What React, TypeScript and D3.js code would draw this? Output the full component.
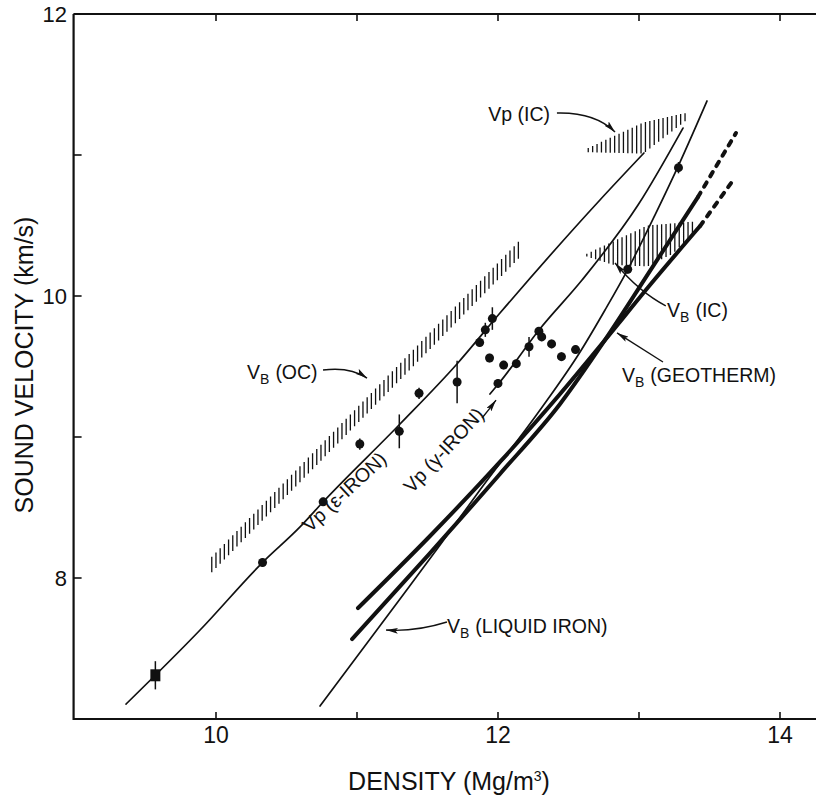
import React, { useEffect } from "react";
import * as d3 from "d3";

const W = 816;
const H = 795;

// ---- axis ticks ----
const xTicks = [10, 11, 12, 13, 14];
const xTickLabels = ["10", "", "12", "", "14"];
const yTicks = [8, 9, 10, 11, 12];
const yTickLabels = ["8", "", "10", "", "12"];

// ---- ε-iron measurements ----
const epsDensity = [9.57, 10.33, 10.76, 11.02, 11.3, 11.44, 11.71, 11.87, 11.91, 11.96];
const epsVelocity = [7.31, 8.11, 8.54, 8.95, 9.04, 9.31, 9.39, 9.67, 9.76, 9.84];
const epsError = [0.1, 0.03, 0.03, 0.04, 0.12, 0.04, 0.15, 0.03, 0.05, 0.08];

// ---- γ-iron / high-T measurements ----
const gamDensity = [11.94, 12.0, 12.04, 12.13, 12.22, 12.29, 12.31, 12.38, 12.45, 12.55, 12.92, 13.28];
const gamVelocity = [9.56, 9.38, 9.51, 9.52, 9.64, 9.75, 9.71, 9.66, 9.57, 9.62, 10.19, 10.91];
const gamError = [0.03, 0.03, 0.03, 0.03, 0.07, 0.03, 0.03, 0.03, 0.03, 0.03, 0.03, 0.04];

// ---- curves ----
const epsLineD = [9.362, 9.887, 10.333, 10.596, 10.759, 11.305, 11.709, 12.014, 12.723, 13.035];
const epsLineV = [7.106, 7.631, 8.113, 8.362, 8.539, 9.092, 9.518, 9.879, 10.681, 11.014];

const gamLineD = [11.943, 12.014, 12.291, 12.596, 12.993, 13.312];
const gamLineV = [9.305, 9.39, 9.759, 10.113, 10.645, 11.191];

const liqLineD = [10.738, 11.305, 11.589, 11.872, 12.298, 12.582, 12.759, 12.922, 13.113, 13.291, 13.482];
const liqLineV = [7.092, 7.851, 8.234, 8.624, 9.191, 9.603, 9.901, 10.191, 10.574, 10.95, 11.383];

const thickAD = [11.007, 11.518, 12.014, 12.44, 12.759, 13.078, 13.433];
const thickAV = [7.787, 8.298, 8.823, 9.305, 9.688, 10.078, 10.496];
const thickAExtD = [13.433, 13.674];
const thickAExtV = [10.496, 10.83];

const thickBD = [10.965, 11.518, 12.014, 12.44, 12.759, 13.092, 13.418];
const thickBV = [7.567, 8.177, 8.738, 9.234, 9.688, 10.199, 10.702];
const thickBExtD = [13.418, 13.688];
const thickBExtV = [10.702, 11.156];

// ---- hatched bands (upper / lower edges) ----
const ocUpperD = [9.97, 12.16];
const ocUpperV = [8.15, 10.4];
const ocLowerD = [9.97, 12.16];
const ocLowerV = [8.04, 10.28];

const vpicUpperD = [12.64, 13.03, 13.34];
const vpicUpperV = [11.05, 11.23, 11.3];
const vpicLowerD = [12.64, 13.03, 13.34];
const vpicLowerV = [11.02, 11.01, 11.25];

const vbicUpperD = [12.63, 13.06, 13.41];
const vbicUpperV = [10.3, 10.5, 10.53];
const vbicLowerD = [12.63, 12.82, 13.06, 13.24, 13.41];
const vbicLowerV = [10.28, 10.22, 10.21, 10.3, 10.47];

const FONT = "'Liberation Sans', Arial, Helvetica, sans-serif";

const x = d3.scaleLinear().domain([10, 14]).range([216, 780]);
const y = d3.scaleLinear().domain([8, 12]).range([578, 14]);

const zip = (a: number[], b: number[]) => a.map((d, i) => [d, b[i]] as [number, number]);

const lineGen = d3
  .line<[number, number]>()
  .x((d) => x(d[0]))
  .y((d) => y(d[1]))
  .curve(d3.curveMonotoneX);

function hatch(uD: number[], uV: number[], lD: number[], lV: number[], step: number) {
  const up = d3.scaleLinear().domain(uD).range(uV);
  const lo = d3.scaleLinear().domain(lD).range(lV);
  const x0 = x(Math.max(uD[0], lD[0]));
  const x1 = x(Math.min(uD[uD.length - 1], lD[lD.length - 1]));
  const segs: string[] = [];
  for (let px = x0; px <= x1 + 0.01; px += step) {
    const d = x.invert(px);
    segs.push(`M${px.toFixed(2)},${y(up(d)).toFixed(2)}V${y(lo(d)).toFixed(2)}`);
  }
  return segs.join("");
}

function VB({ d, v, rest }: { d: number; v: number; rest: string }) {
  return (
    <text x={x(d)} y={y(v)} fontFamily={FONT} fontSize={19.5} fill="#111">
      <tspan>V</tspan>
      <tspan fontSize={14} dy={5}>B</tspan>
      <tspan dy={-5} dx={6}>{rest}</tspan>
    </text>
  );
}

function Arrow({ a, c, b }: { a: number[]; c: number[]; b: number[] }) {
  return (
    <path
      d={`M${x(a[0])},${y(a[1])}Q${x(c[0])},${y(c[1])} ${x(b[0])},${y(b[1])}`}
      fill="none"
      stroke="#111"
      strokeWidth={1.4}
      markerEnd="url(#ah)"
    />
  );
}

export default function App() {
  useEffect(() => {
    document.body.style.margin = "0";
    document.body.style.overflow = "hidden";
  }, []);

  const xL = 8.99;
  const xLeft = x(xL);
  const yBot = y(7);
  const yTop = y(12);

  return (
    <svg width={W} height={H} style={{ display: "block", background: "#fff" }}>
      <defs>
        <marker id="ah" viewBox="0 0 12 6" refX={12} refY={3} markerWidth={12} markerHeight={6} markerUnits="userSpaceOnUse" orient="auto">
          <path d="M0,0 L12,3 L0,6 L2.5,3 z" fill="#111" />
        </marker>
      </defs>

      {/* frame */}
      <g stroke="#111" fill="none">
        <path d={`M${xLeft},${yTop}V${yBot}H${W}`} strokeWidth={2.2} />
        <path d={`M${xLeft},${yTop}H${W}`} strokeWidth={2} />
        {xTicks.map((t) => (
          <g key={"xt" + t}>
            <line x1={x(t)} x2={x(t)} y1={yBot} y2={yBot - 7} strokeWidth={1.6} />
            <line x1={x(t)} x2={x(t)} y1={yTop} y2={yTop + 7} strokeWidth={1.6} />
          </g>
        ))}
        {yTicks.map((t) => (
          <line key={"yt" + t} x1={xLeft} x2={xLeft + 8} y1={y(t)} y2={y(t)} strokeWidth={1.6} />
        ))}
      </g>
      {xTicks.map((t, i) => (
        <text key={"xl" + t} x={x(t)} y={yBot + 24} textAnchor="middle" fontFamily={FONT} fontSize={23} fill="#111">
          {xTickLabels[i]}
        </text>
      ))}
      {yTicks.map((t, i) => (
        <text key={"yl" + t} x={67} y={y(t) + 8} textAnchor="end" fontFamily={FONT} fontSize={22} fill="#111">
          {yTickLabels[i]}
        </text>
      ))}
      <text x={449} y={790} textAnchor="middle" fontFamily={FONT} fontSize={25} fill="#111">
        DENSITY (Mg/m<tspan fontSize={14} dy={-9}>3</tspan>
        <tspan dy={9}>)</tspan>
      </text>
      <text transform="translate(33,365) rotate(-90)" textAnchor="middle" fontFamily={FONT} fontSize={25} fill="#111">
        SOUND VELOCITY (km/s)
      </text>

      {/* hatched regions */}
      <g stroke="#111" strokeWidth={1.3} fill="none">
        <path d={hatch(ocUpperD, ocUpperV, ocLowerD, ocLowerV, 4.2)} />
        <path d={hatch(vpicUpperD, vpicUpperV, vpicLowerD, vpicLowerV, 4.4)} />
        <path d={hatch(vbicUpperD, vbicUpperV, vbicLowerD, vbicLowerV, 4.4)} />
      </g>

      {/* curves */}
      <g fill="none" stroke="#111" strokeLinecap="round">
        <path d={lineGen(zip(epsLineD, epsLineV)) || ""} strokeWidth={1.7} />
        <path d={lineGen(zip(gamLineD, gamLineV)) || ""} strokeWidth={1.7} />
        <path d={lineGen(zip(liqLineD, liqLineV)) || ""} strokeWidth={1.7} />
        <path d={lineGen(zip(thickAD, thickAV)) || ""} strokeWidth={4} />
        <path d={lineGen(zip(thickBD, thickBV)) || ""} strokeWidth={4} />
        <path d={lineGen(zip(thickAExtD, thickAExtV)) || ""} strokeWidth={4} strokeDasharray="5 7" />
        <path d={lineGen(zip(thickBExtD, thickBExtV)) || ""} strokeWidth={4} strokeDasharray="5 7" />
      </g>

      {/* data */}
      <g fill="#111" stroke="#111">
        {epsDensity.map((d, i) => (
          <line key={"ee" + i} x1={x(d)} x2={x(d)} y1={y(epsVelocity[i] - epsError[i])} y2={y(epsVelocity[i] + epsError[i])} strokeWidth={1.5} />
        ))}
        {gamDensity.map((d, i) => (
          <line key={"ge" + i} x1={x(d)} x2={x(d)} y1={y(gamVelocity[i] - gamError[i])} y2={y(gamVelocity[i] + gamError[i])} strokeWidth={1.5} />
        ))}
        {epsDensity.map((d, i) =>
          i === 0 ? (
            <rect key={"ep" + i} x={x(d) - 5} y={y(epsVelocity[i]) - 6} width={10} height={12} stroke="none" />
          ) : (
            <circle key={"ep" + i} cx={x(d)} cy={y(epsVelocity[i])} r={4.5} stroke="none" />
          )
        )}
        {gamDensity.map((d, i) => (
          <circle key={"gp" + i} cx={x(d)} cy={y(gamVelocity[i])} r={4.5} stroke="none" />
        ))}
      </g>

      {/* annotations */}
      <VB d={10.22} v={9.411} rest="(OC)" />
      <Arrow a={[10.759, 9.475]} c={[10.95, 9.5]} b={[11.071, 9.418]} />

      <text x={x(12.369)} y={y(11.241)} textAnchor="end" fontFamily={FONT} fontSize={19.5} fill="#111">
        Vp (IC)
      </text>
      <Arrow a={[12.418, 11.298]} c={[12.688, 11.305]} b={[12.83, 11.163]} />

      <VB d={13.199} v={9.851} rest="(IC)" />
      <Arrow a={[13.19, 9.93]} c={[13.0, 10.03]} b={[12.83, 10.234]} />

      <VB d={12.879} v={9.39} rest="(GEOTHERM)" />
      <Arrow a={[13.17, 9.532]} c={[13.0, 9.64]} b={[12.844, 9.738]} />

      <VB d={11.638} v={7.61} rest="(LIQUID IRON)" />
      <Arrow a={[11.638, 7.688]} c={[11.411, 7.617]} b={[11.206, 7.631]} />

      <text
        transform={`translate(${x(10.667)},${y(8.319)}) rotate(-43)`}
        fontFamily={FONT}
        fontSize={19.5}
        fill="#111"
      >
        Vp (ε-IRON)
      </text>
      <text
        transform={`translate(${x(11.39)},${y(8.596)}) rotate(-47)`}
        fontFamily={FONT}
        fontSize={19.5}
        fill="#111"
      >
        Vp (γ-IRON)
      </text>
      <Arrow a={[11.887, 9.135]} c={[11.94, 9.2]} b={[11.986, 9.262]} />
    </svg>
  );
}
